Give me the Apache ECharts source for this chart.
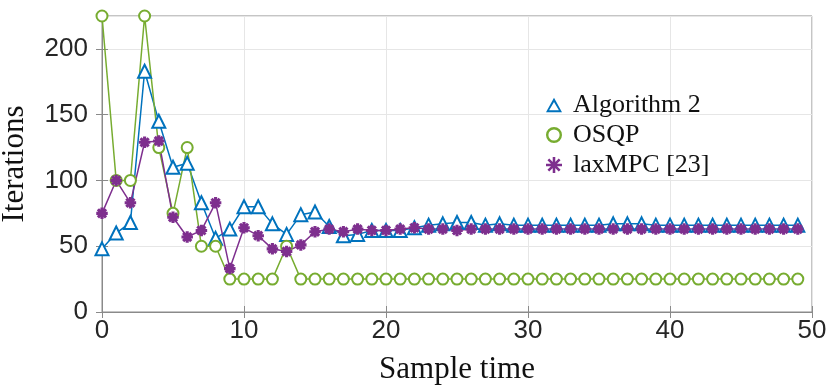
<!DOCTYPE html>
<html>
<head>
<meta charset="utf-8">
<script src="https://cdn.jsdelivr.net/npm/echarts@6/dist/echarts.min.js"></script>
<style>
  html, body { margin: 0; padding: 0; background: #fff; }
  #chart { width: 830px; height: 391px; }
</style>
</head>
<body>
<div id="chart"></div>
<script>
// sample times and iteration counts
const sampleTime = Array.from({ length: 50 }, (_, i) => i);
const alg2 = [48, 60, 68, 183, 145, 110, 113, 83, 56, 63, 80, 80, 67, 59, 74, 76, 65, 58, 59, 62,
              62, 62, 64, 66, 67, 68, 68, 66, 67, 66, 66, 66, 66, 66, 66, 66, 67, 67, 67, 66,
              66, 66, 66, 66, 66, 66, 66, 66, 66, 66];
const osqp = [225, 100, 100, 225, 125, 75, 125, 50, 50, 25, 25, 25, 25, 50, 25, 25, 25, 25, 25, 25,
              25, 25, 25, 25, 25, 25, 25, 25, 25, 25, 25, 25, 25, 25, 25, 25, 25, 25, 25, 25,
              25, 25, 25, 25, 25, 25, 25, 25, 25, 25];
const laxmpc = [75, 100, 83, 129, 130, 72, 57, 62, 83, 33, 64, 58, 48, 46, 51, 61, 63, 61, 63, 62,
                62, 63, 64, 63, 63, 62, 63, 63, 63, 63, 63, 63, 63, 63, 63, 63, 63, 63, 63, 63,
                63, 63, 63, 63, 63, 63, 63, 63, 63, 63];
const names = ['Algorithm 2', 'OSQP', 'laxMPC [23]'];
const colors = ['#0072BD', '#77AC30', '#7E2F8E'];

// marker shapes as filled paths (outlines drawn as rings so they show the same in the legend)
function asteriskPath() {
  let d = '';
  const w = 0.16;
  [0, 45, 90, 135].forEach(a => {
    const r = a * Math.PI / 180;
    const c = Math.cos(r), s = Math.sin(r);
    const nx = -s * w, ny = c * w;
    const pts = [
      [-c + nx, -s + ny], [c + nx, s + ny], [c - nx, s - ny], [-c - nx, -s - ny]
    ];
    d += 'M' + pts.map(p => (p[0] + 1).toFixed(3) + ' ' + (p[1] + 1).toFixed(3)).join(' L') + ' Z ';
  });
  return 'path://' + d;
}
const starSymbol = asteriskPath();
// hollow triangle: outer ccw, inner cw
const triLegend = 'path://M10 0 L20 18 L0 18 Z M10 5.2 L3.9 15.6 L16.1 15.6 Z';
// hollow circle ring
const ringLegend = 'path://M10 0 A10 10 0 1 1 9.99 0 Z M10 3 A7 7 0 1 0 10.01 3 Z';

const chart = echarts.init(document.getElementById('chart'));

const tickFont = { fontFamily: 'Liberation Sans', fontSize: 26, color: '#262626' };
const serif = 'Liberation Serif';

function mkSeries(name, data, color, symbol, size) {
  return {
    name: name,
    type: 'line',
    data: sampleTime.map((t, i) => [t, data[i]]),
    symbol: symbol,
    symbolSize: size,
    showAllSymbol: true,
    lineStyle: { color: color, width: 1.5 },
    itemStyle: { color: color, borderColor: color, borderWidth: 1.5 },
    emphasis: { disabled: true },
    animation: false
  };
}

chart.setOption({
  animation: false,
  grid: {
    left: 102, right: 18, top: 16, bottom: 79,
    outerBoundsMode: 'none', containLabel: false,
    show: true, borderColor: '#8a8a8a', borderWidth: 1
  },
  legend: {
    orient: 'vertical',
    left: 541,
    top: 87,
    itemWidth: 16,
    itemHeight: 16,
    itemGap: 4,
    textStyle: { fontFamily: serif, fontSize: 26, color: '#111', padding: [0, 0, 0, 6], lineHeight: 25 },
    data: [
      { name: names[0], icon: triLegend, itemStyle: { color: colors[0], borderWidth: 0 } },
      { name: names[1], icon: ringLegend, itemStyle: { color: colors[1], borderWidth: 0 } },
      { name: names[2], icon: starSymbol, itemStyle: { color: colors[2], borderWidth: 0 } }
    ]
  },
  xAxis: [{
    type: 'value',
    min: 0, max: 50, interval: 10,
    name: 'Sample time',
    nameLocation: 'middle',
    nameGap: 42,
    nameTextStyle: { fontFamily: serif, fontSize: 31, color: '#111' },
    axisLine: { show: true, lineStyle: { color: '#8a8a8a' } },
    axisTick: { show: true, inside: true, length: 6, lineStyle: { color: '#8a8a8a' } },
    axisLabel: Object.assign({ margin: 6 }, tickFont),
    splitLine: { show: true, lineStyle: { color: '#e6e6e6' } }
  }, {
    type: 'value', position: 'top',
    min: 0, max: 50, interval: 10,
    axisLine: { show: true, lineStyle: { color: '#8a8a8a' } },
    axisTick: { show: true, inside: true, length: 6, lineStyle: { color: '#8a8a8a' } },
    axisLabel: { show: false },
    splitLine: { show: false }
  }],
  yAxis: [{
    type: 'value',
    min: 0, max: 225, interval: 50,
    name: 'Iterations',
    nameLocation: 'middle',
    nameGap: 72,
    nameTextStyle: { fontFamily: serif, fontSize: 31, color: '#111' },
    axisLine: { show: true, lineStyle: { color: '#8a8a8a' } },
    axisTick: { show: true, inside: true, length: 6, lineStyle: { color: '#8a8a8a' } },
    axisLabel: Object.assign({ margin: 14, showMaxLabel: false }, tickFont),
    splitLine: { show: true, lineStyle: { color: '#e6e6e6' } }
  }, {
    type: 'value', position: 'right',
    min: 0, max: 225, interval: 50,
    axisLine: { show: true, lineStyle: { color: '#8a8a8a' } },
    axisTick: { show: true, inside: true, length: 6, lineStyle: { color: '#8a8a8a' } },
    axisLabel: { show: false },
    splitLine: { show: false }
  }],
  series: [
    mkSeries(names[0], alg2, colors[0], 'emptyTriangle', 13),
    mkSeries(names[1], osqp, colors[1], 'emptyCircle', 11),
    mkSeries(names[2], laxmpc, colors[2], starSymbol, 10)
  ]
});

window.addEventListener('resize', function() {
  chart.resize();
});
</script>
</body>
</html>
